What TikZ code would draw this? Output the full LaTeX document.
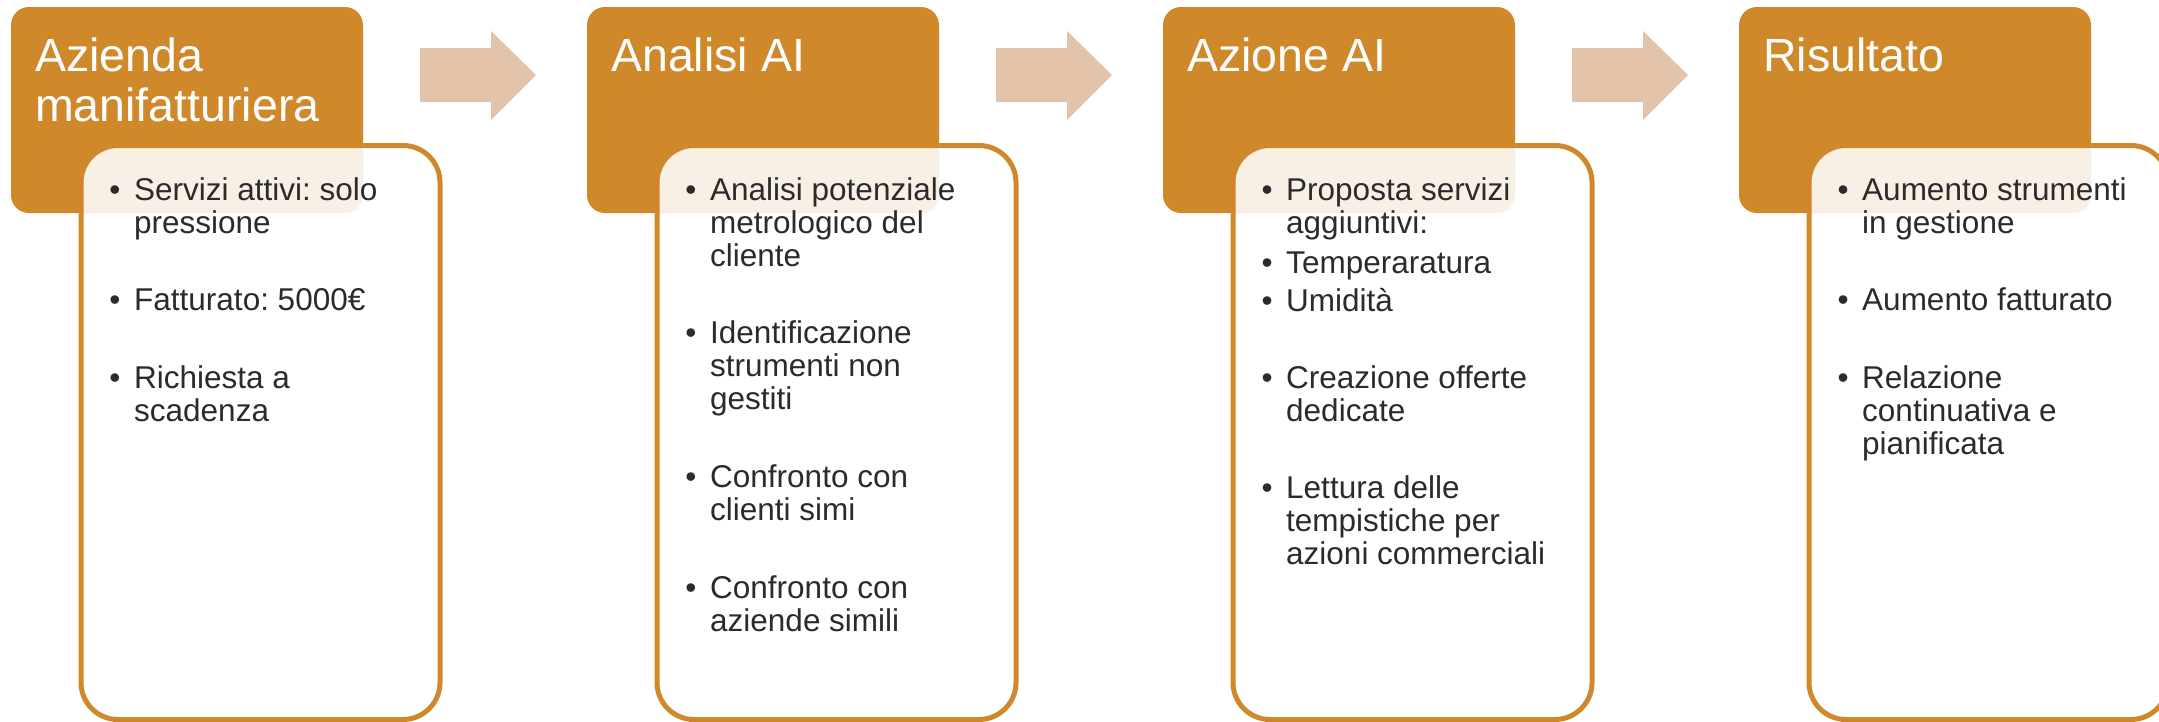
\documentclass[tikz,border=0pt]{standalone}
\usepackage{fontspec}
\setmainfont{Liberation Sans}
\frenchspacing
\definecolor{hdr}{HTML}{CF892B}
\definecolor{arr}{HTML}{E3C4AB}
\definecolor{txt}{HTML}{2B2B2B}
\begin{document}
\begin{tikzpicture}[x=1pt,y=-1pt,
  hdrbox/.style={fill=hdr, rounded corners=18pt},
  bodybox/.style={draw=hdr, line width=5pt, fill=white, fill opacity=0.88, rounded corners=37pt},
  blockarrow/.style={fill=arr},
  hdrtext/.style={anchor=base west, inner sep=0pt, text=white, align=left, font=\fontsize{46.5}{50}\selectfont\frenchspacing},
  item/.style={anchor=base west, inner sep=0pt, text=txt, align=left, font=\fontsize{31.5}{33}\selectfont\frenchspacing},
  bul/.style={anchor=base, inner sep=0pt, text=txt, font=\fontsize{31.5}{33}\selectfont}]
\useasboundingbox (0,0) rectangle (2159,721);

% (multi-line nodes are anchored at the baseline of their last line)
% ---------- column 1 ----------
\fill[hdrbox] (11,7) rectangle (363,213);
\draw[bodybox] (81,145.5) rectangle (440,719.5);
\node[hdrtext] (t1) at (35,121) {Azienda\\manifatturiera};
\node[bul] (d11) at (115,200) {•};
\node[item] (i11) at (134,233) {Servizi attivi: solo\\pressione};
\node[bul] (d12) at (115,310) {•};
\node[item] (i12) at (134,310) {Fatturato: 5000€};
\node[bul] (d13) at (115,388) {•};
\node[item] (i13) at (134,421) {Richiesta a\\scadenza};
\fill[blockarrow] (420,48) -- (491,48) -- (491,31) -- (536,75) -- (491,120) -- (491,102) -- (420,102) -- cycle;

% ---------- column 2 ----------
\begin{scope}[xshift=576pt]
\fill[hdrbox] (11,7) rectangle (363,213);
\draw[bodybox] (81,145.5) rectangle (440,719.5);
\node[hdrtext] (t2) at (35,71) {Analisi AI};
\node[bul] (d21) at (115,200) {•};
\node[item] (i21) at (134,266) {Analisi potenziale\\metrologico del\\cliente};
\node[bul] (d22) at (115,343) {•};
\node[item] (i22) at (134,409) {Identificazione\\strumenti non\\gestiti};
\node[bul] (d23) at (115,487) {•};
\node[item] (i23) at (134,520) {Confronto con\\clienti simi};
\node[bul] (d24) at (115,598) {•};
\node[item] (i24) at (134,631) {Confronto con\\aziende simili};
\fill[blockarrow] (420,48) -- (491,48) -- (491,31) -- (536,75) -- (491,120) -- (491,102) -- (420,102) -- cycle;
\end{scope}

% ---------- column 3 ----------
\begin{scope}[xshift=1152pt]
\fill[hdrbox] (11,7) rectangle (363,213);
\draw[bodybox] (81,145.5) rectangle (440,719.5);
\node[hdrtext] (t3) at (35,71) {Azione AI};
\node[bul] (d31) at (115,200) {•};
\node[item] (i31) at (134,233) {Proposta servizi\\aggiuntivi:};
\node[bul] (d32) at (115,273) {•};
\node[item] (i32) at (134,273) {Temperaratura};
\node[bul] (d33) at (115,311) {•};
\node[item] (i33) at (134,311) {Umidità};
\node[bul] (d34) at (115,388) {•};
\node[item] (i34) at (134,421) {Creazione offerte\\dedicate};
\node[bul] (d35) at (115,498) {•};
\node[item] (i35) at (134,564) {Lettura delle\\tempistiche per\\azioni commerciali};
\fill[blockarrow] (420,48) -- (491,48) -- (491,31) -- (536,75) -- (491,120) -- (491,102) -- (420,102) -- cycle;
\end{scope}

% ---------- column 4 ----------
\begin{scope}[xshift=1728pt]
\fill[hdrbox] (11,7) rectangle (363,213);
\draw[bodybox] (81,145.5) rectangle (440,719.5);
\node[hdrtext] (t4) at (35,71) {Risultato};
\node[bul] (d41) at (115,200) {•};
\node[item] (i41) at (134,233) {Aumento strumenti\\in gestione};
\node[bul] (d42) at (115,310) {•};
\node[item] (i42) at (134,310) {Aumento fatturato};
\node[bul] (d43) at (115,388) {•};
\node[item] (i43) at (134,454) {Relazione\\continuativa e\\pianificata};
\end{scope}
\end{tikzpicture}
\end{document}
